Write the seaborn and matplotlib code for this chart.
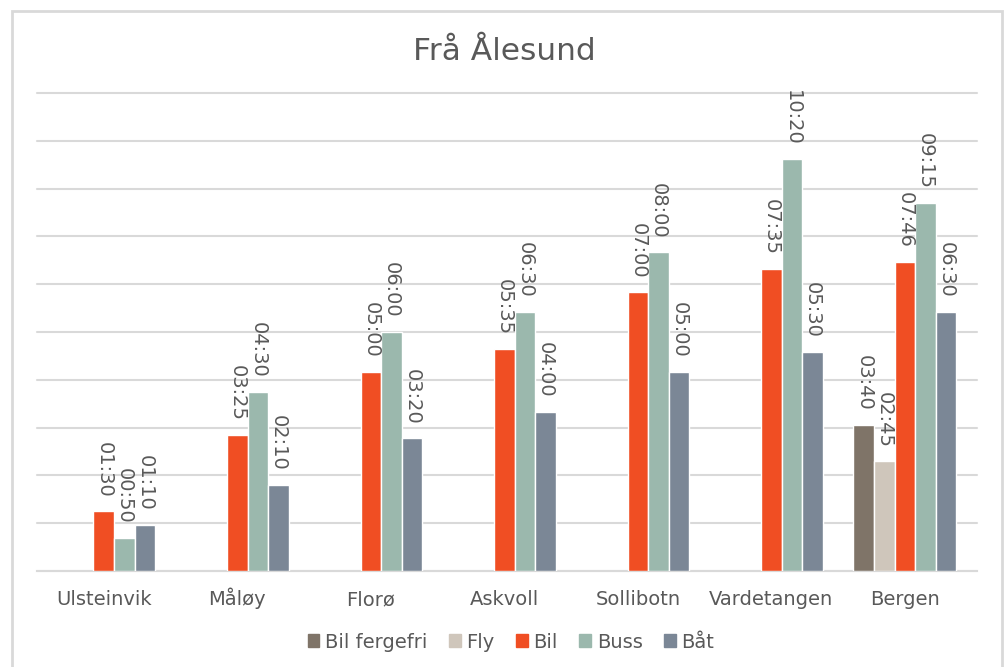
import matplotlib
matplotlib.use("Agg")
import matplotlib.pyplot as plt
import matplotlib.patches as mpatches
import numpy as np
import pandas as pd
import seaborn as sns

# Travel times from Ålesund, in minutes
destinations = ["Ulsteinvik", "Måløy", "Florø", "Askvoll", "Sollibotn", "Vardetangen", "Bergen"]
modes = ["Bil fergefri", "Fly", "Bil", "Buss", "Båt"]
bil_fergefri = [None, None, None, None, None, None, 220]
fly = [None, None, None, None, None, None, 165]
bil = [90, 205, 300, 335, 420, 455, 466]
buss = [50, 270, 360, 390, 480, 620, 555]
baat = [70, 130, 200, 240, 300, 330, 390]
colors = ["#7f7468", "#cfc6bb", "#f04e23", "#9bb8ad", "#7b8796"]

series = dict(zip(modes, [bil_fergefri, fly, bil, buss, baat]))
rows = []
for mode, vals in series.items():
    for dest, v in zip(destinations, vals):
        if v is not None:
            rows.append({"Destinasjon": dest, "Modus": mode, "Minutt": v})
df = pd.DataFrame(rows)

TEXT = "#595959"
GRID = "#d9d9d9"

sns.set_theme(style="white")
plt.rcParams["font.family"] = ["DejaVu Sans"]

W, H = 1008, 667
fig = plt.figure(figsize=(W / 100, H / 100), dpi=100)
# axes: x 37..977 px, y 93..571 px
ax = fig.add_axes([37 / W, 1 - 571 / H, (977 - 37) / W, (571 - 93) / H])

sns.barplot(data=df, x="Destinasjon", y="Minutt", hue="Modus",
            order=destinations, hue_order=modes, palette=colors,
            saturation=1, width=0.77, errorbar=None,
            edgecolor="white", linewidth=1, ax=ax, zorder=3)

def hhmm(v):
    v = int(round(v))
    return f"{v // 60:02d}:{v % 60:02d}"

for cont in ax.containers:
    ax.bar_label(cont, fmt=hhmm, rotation=270, padding=10,
                 fontsize=14, color=TEXT)

ax.set_ylim(0, 720)
ax.set_xlim(-0.5, 6.54)
ax.set_yticks(np.arange(0, 721, 72))
ax.set_yticklabels([])
ax.yaxis.grid(True, color=GRID, linewidth=1.5, zorder=0)
for gl in ax.get_ygridlines():
    gl.set_clip_on(False)
ax.set_axisbelow(True)
for s in ["top", "right", "left"]:
    ax.spines[s].set_visible(False)
ax.spines["bottom"].set_color(GRID)
ax.spines["bottom"].set_linewidth(1.5)
ax.tick_params(axis="both", length=0)
ax.tick_params(axis="x", labelbottom=False)
ax.set_xlabel("")
ax.set_ylabel("")

# category names on a common baseline below the axis
xtrans = ax.get_xaxis_transform()
base_y = -(605 - 571) / (571 - 93)
for i, name in enumerate(destinations):
    ax.text(i, base_y, name, transform=xtrans, ha="center", va="baseline",
            fontsize=14, color=TEXT, clip_on=False)

if ax.get_legend() is not None:
    ax.get_legend().remove()
handles = [mpatches.Patch(color=c, label=m) for c, m in zip(colors, modes)]
fig.legend(handles=handles, loc="center", bbox_to_anchor=(511 / W, 1 - 642 / H),
           ncol=5, frameon=False, fontsize=14, labelcolor=TEXT,
           handlelength=0.6, handleheight=0.6, handletextpad=0.3,
           columnspacing=1.1)

fig.text(504 / W, 1 - 52 / H, "Frå Ålesund", ha="center", va="center",
         fontsize=22.5, color=TEXT)

# outer chart frame
frame = mpatches.Rectangle((12 / W, -0.05), (1002 - 12) / W, 1.05 - 11 / H,
                           transform=fig.transFigure, fill=False,
                           edgecolor=GRID, linewidth=2)
fig.patches.append(frame)

fig.savefig("out.png", dpi=100)
